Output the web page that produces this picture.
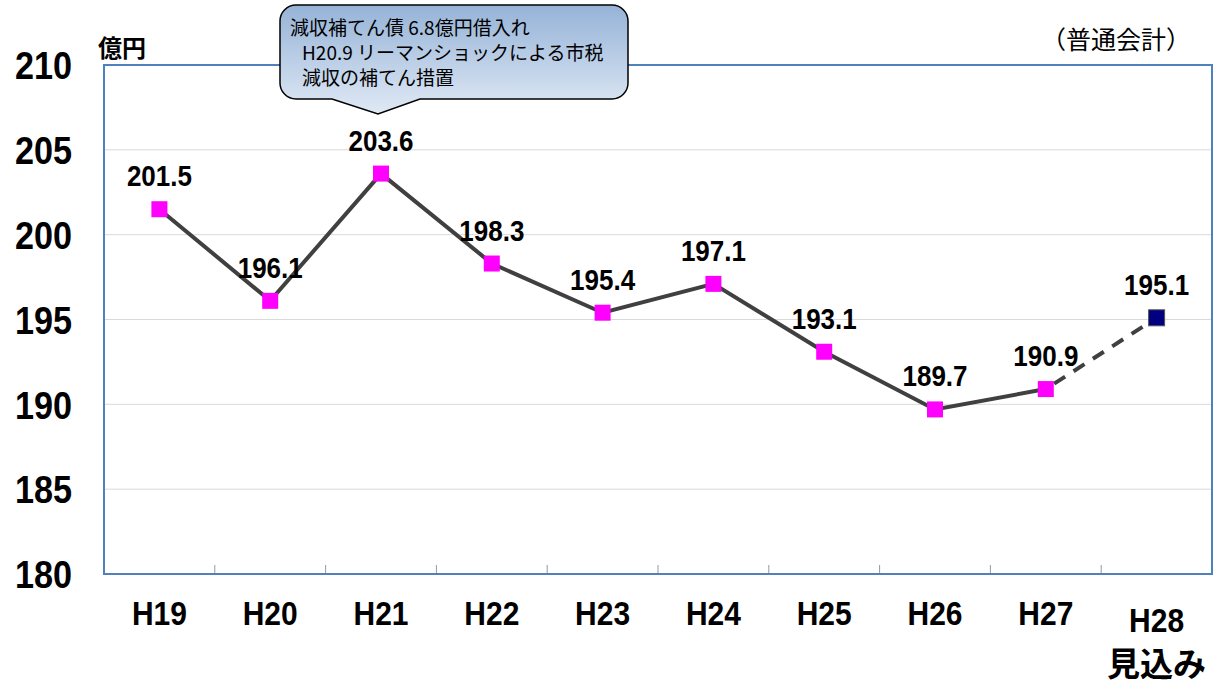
<!DOCTYPE html>
<html>
<head>
<meta charset="utf-8">
<script src="https://cdn.jsdelivr.net/npm/d3@7"></script>
<style>
  body { margin: 0; background: #fff; }
  svg { display: block; font-family: "Liberation Sans", Arial, "Noto Sans CJK JP", sans-serif; }
</style>
</head>
<body>
<div class="graph"></div>
<script>
const years = ["H19", "H20", "H21", "H22", "H23", "H24", "H25", "H26", "H27", "H28"];
const values = [201.5, 196.1, 203.6, 198.3, 195.4, 197.1, 193.1, 189.7, 190.9, 195.1];
const yTicks = [180, 185, 190, 195, 200, 205, 210];
const calloutLines = ["減収補てん債 6.8億円借入れ", "H20.9 リーマンショックによる市税", "減収の補てん措置"];

const width = 1213;
const height = 682;
const margin = { top: 65, right: 1, bottom: 108, left: 104 };

const svg = d3
  .select(".graph")
  .append("svg")
  .attr("width", width)
  .attr("height", height);

const x = d3
  .scaleBand()
  .domain(years)
  .range([margin.left, width - margin.right]);

const y = d3
  .scaleLinear()
  .domain([180, 210])
  .range([height - margin.bottom, margin.top]);

const cx = (d) => x(d) + x.bandwidth() / 2;

// gridlines
svg
  .append("g")
  .selectAll()
  .data(yTicks.filter((t) => t > 180 && t < 210))
  .join("line")
  .attr("x1", margin.left)
  .attr("x2", width - margin.right)
  .attr("y1", (d) => y(d))
  .attr("y2", (d) => y(d))
  .attr("stroke", "#d9d9d9")
  .attr("stroke-width", 1);

// category tick marks on the bottom
svg
  .append("g")
  .selectAll()
  .data(years.slice(1))
  .join("line")
  .attr("x1", (d) => x(d))
  .attr("x2", (d) => x(d))
  .attr("y1", y(180) - 9)
  .attr("y2", y(180))
  .attr("stroke", "#999")
  .attr("stroke-width", 1);

// plot frame
svg
  .append("rect")
  .attr("x", margin.left)
  .attr("y", margin.top)
  .attr("width", width - margin.right - margin.left)
  .attr("height", y(180) - margin.top)
  .attr("fill", "none")
  .attr("stroke", "#4f81bd")
  .attr("stroke-width", 2);

// y tick labels (slightly stretched vertically like the original font)
svg
  .append("g")
  .selectAll()
  .data(yTicks)
  .join("text")
  .attr("transform", (d) => `translate(72,${y(d)}) scale(0.95,1.1)`)
  .attr("dy", "0.36em")
  .attr("text-anchor", "end")
  .attr("font-size", 36)
  .attr("font-weight", "bold")
  .text((d) => d);

// x labels
svg
  .append("g")
  .selectAll()
  .data(years)
  .join("text")
  .attr("transform", (d, i) => `translate(${cx(d)},${i === years.length - 1 ? 632 : 625}) scale(1,1.1)`)
  .attr("text-anchor", "middle")
  .attr("font-size", 30)
  .attr("font-weight", "bold")
  .text((d) => d);

svg
  .append("text")
  .attr("x", cx("H28"))
  .attr("y", 676)
  .attr("text-anchor", "middle")
  .attr("font-size", 33)
  .attr("font-weight", "bold")
  .text("見込み");

// unit and note
svg
  .append("text")
  .attr("x", 98)
  .attr("y", 57)
  .attr("font-size", 24)
  .attr("font-weight", "bold")
  .text("億円");

svg
  .append("text")
  .attr("x", 1116)
  .attr("y", 49)
  .attr("text-anchor", "middle")
  .attr("font-size", 25)
  .text("（普通会計）");

// lines
const points = years.map((d, i) => ({ year: d, value: values[i] }));
const line = d3
  .line()
  .x((d) => cx(d.year))
  .y((d) => y(d.value));

svg
  .append("path")
  .datum(points.slice(0, 9))
  .attr("d", line)
  .attr("fill", "none")
  .attr("stroke", "#404040")
  .attr("stroke-width", 4);

svg
  .append("path")
  .datum(points.slice(8))
  .attr("d", line)
  .attr("fill", "none")
  .attr("stroke", "#404040")
  .attr("stroke-width", 4)
  .attr("stroke-dasharray", "13,10")
  .attr("stroke-dashoffset", -10);

// markers
const ms = 16;
svg
  .append("g")
  .selectAll()
  .data(points)
  .join("rect")
  .attr("x", (d) => cx(d.year) - ms / 2)
  .attr("y", (d) => y(d.value) - ms / 2)
  .attr("width", ms)
  .attr("height", ms)
  .attr("fill", (d, i) => (i === points.length - 1 ? "#000080" : "#ff00ff"))
  .attr("stroke", (d, i) => (i === points.length - 1 ? "#555" : "none"))
  .attr("stroke-width", 1);

// data labels
svg
  .append("g")
  .selectAll()
  .data(points)
  .join("text")
  .attr("transform", (d) => `translate(${cx(d.year)},${y(d.value) - 23}) scale(1,1.1)`)
  .attr("text-anchor", "middle")
  .attr("font-size", 26)
  .attr("font-weight", "bold")
  .text((d) => d.value.toFixed(1));

// callout
const defs = svg.append("defs");
const grad = defs
  .append("linearGradient")
  .attr("id", "calloutFill")
  .attr("x1", 0)
  .attr("y1", 0)
  .attr("x2", 0)
  .attr("y2", 1);
grad.append("stop").attr("offset", "0%").attr("stop-color", "#95b3d7");
grad.append("stop").attr("offset", "100%").attr("stop-color", "#e0e9f5");

const bx = 280, by = 5, bw = 348, bh = 94, r = 16;
const tipX = cx("H21") - 3, tipY = 114;
const path = d3.path();
path.moveTo(bx + r, by);
path.lineTo(bx + bw - r, by);
path.arcTo(bx + bw, by, bx + bw, by + r, r);
path.lineTo(bx + bw, by + bh - r);
path.arcTo(bx + bw, by + bh, bx + bw - r, by + bh, r);
path.lineTo(420, by + bh);
path.lineTo(tipX, tipY);
path.lineTo(332, by + bh);
path.lineTo(bx + r, by + bh);
path.arcTo(bx, by + bh, bx, by + bh - r, r);
path.lineTo(bx, by + r);
path.arcTo(bx, by, bx + r, by, r);
path.closePath();

svg
  .append("path")
  .attr("d", path.toString())
  .attr("fill", "url(#calloutFill)")
  .attr("stroke", "#000")
  .attr("stroke-width", 1.5);

svg
  .append("g")
  .selectAll()
  .data(calloutLines)
  .join("text")
  .attr("x", (d, i) => (i === 0 ? 290 : 302))
  .attr("y", (d, i) => 35 + i * 25)
  .attr("font-size", 19)
  .attr("font-family", "'Noto Sans CJK JP', sans-serif")
  .text((d) => d);
</script>
</body>
</html>
